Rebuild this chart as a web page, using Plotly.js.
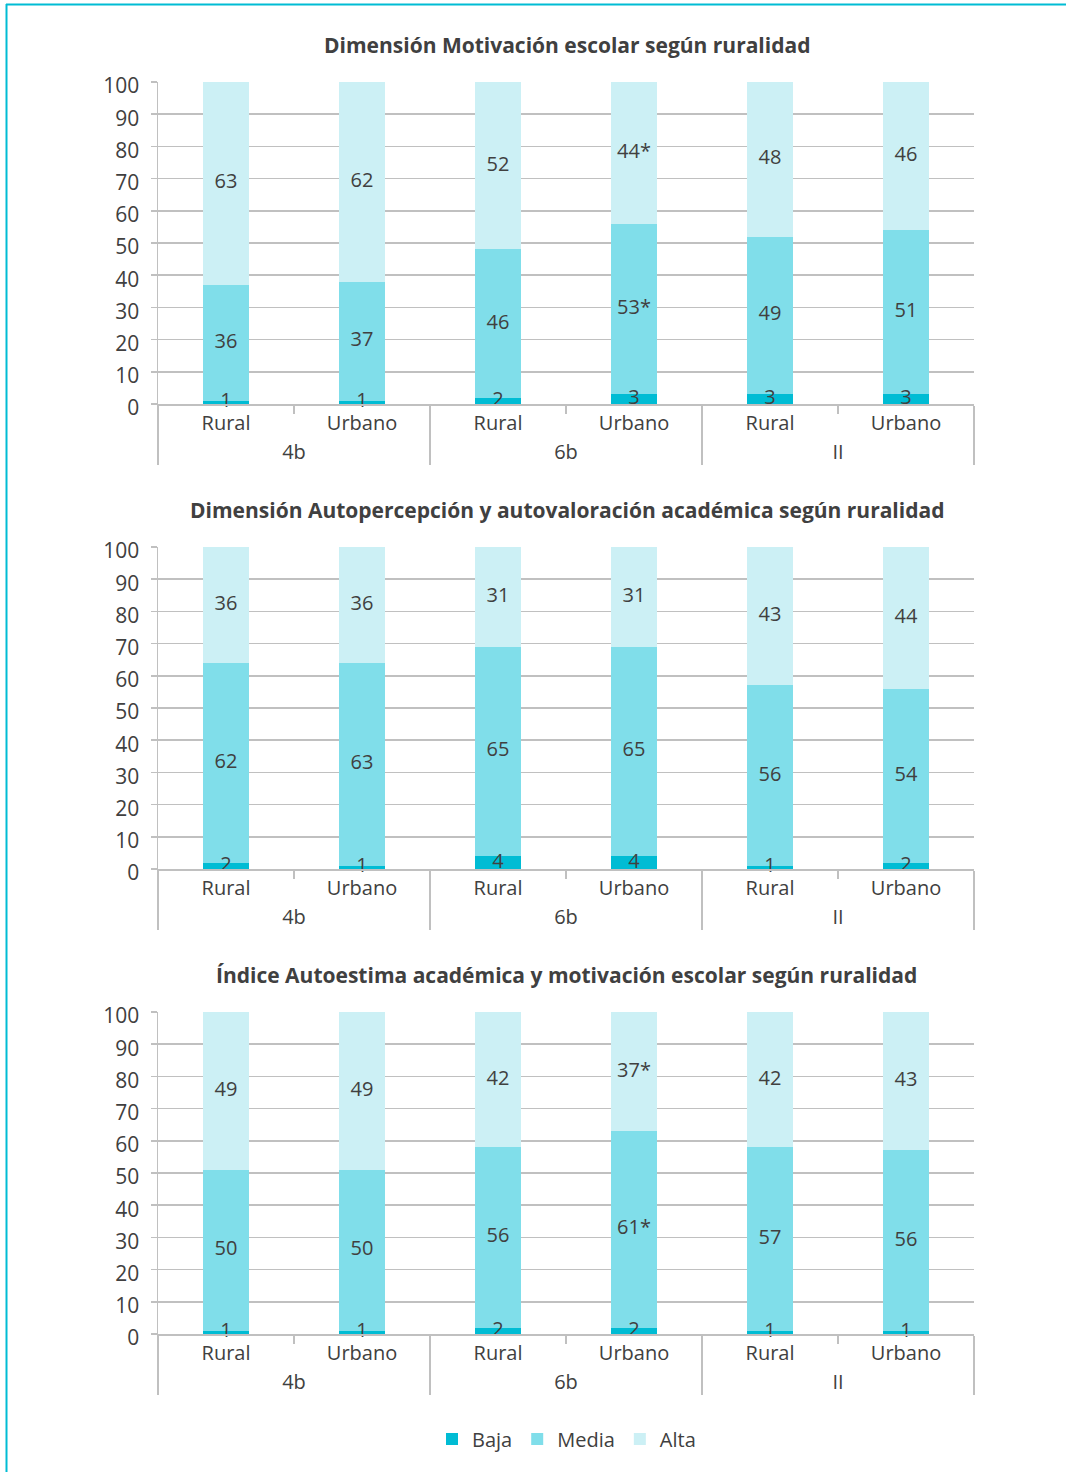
<!DOCTYPE html>
<html>
<head>
<meta charset="utf-8">
<script src="https://cdn.plot.ly/plotly-3.0.1.min.js"></script>
<style>
  html, body { margin: 0; padding: 0; background: #ffffff; }
  #chart { width: 1066px; height: 1472px; }
</style>
</head>
<body>
<div id="chart"></div>
<script>
// Category levels shared by the three panels
const grades = ['4b', '4b', '6b', '6b', 'II', 'II'];
const zones = ['Rural', 'Urbano', 'Rural', 'Urbano', 'Rural', 'Urbano'];
const seriesNames = ['Baja', 'Media', 'Alta'];

// Panel 1: Dimensión Motivación escolar
const motivBaja = [1, 1, 2, 3, 3, 3];
const motivMedia = [36, 37, 46, 53, 49, 51];
const motivAlta = [63, 62, 52, 44, 48, 46];
const motivSig = [false, false, false, true, false, false];

// Panel 2: Dimensión Autopercepción y autovaloración académica
const autoBaja = [2, 1, 4, 4, 1, 2];
const autoMedia = [62, 63, 65, 65, 56, 54];
const autoAlta = [36, 36, 31, 31, 43, 44];
const autoSig = [false, false, false, false, false, false];

// Panel 3: Índice Autoestima académica y motivación escolar
const indBaja = [1, 1, 2, 2, 1, 1];
const indMedia = [50, 50, 56, 61, 57, 56];
const indAlta = [49, 49, 42, 37, 42, 43];
const indSig = [false, false, false, true, false, false];

const panelTitles = [
  'Dimensión Motivación escolar según ruralidad',
  'Dimensión Autopercepción y autovaloración académica según ruralidad',
  'Índice Autoestima académica y motivación escolar según ruralidad'
];

const colors = ['#00BCD4', '#80DEEA', '#CCF0F5'];
const textColor = '#404040';
const lineColor = '#c0c0c0';
const FONT = '"Open Sans", "Noto Sans", sans-serif';

const panels = [
  { series: [motivBaja, motivMedia, motivAlta], sig: motivSig },
  { series: [autoBaja, autoMedia, autoAlta], sig: autoSig },
  { series: [indBaja, indMedia, indAlta], sig: indSig }
];

// Pixel layout of the figure (1066 x 1472)
const W = 1066, H = 1472;
const plotLeft = 158, plotRight = 974;
const panelTops = [82, 547, 1012];
const panelHeight = 322;
const titleY = [45, 510, 975];
const centerX = 566.5;

const x = [grades, zones];
const traces = [];
const annotations = [];
const layout = {
  width: W,
  height: H,
  margin: { l: 0, r: 0, t: 0, b: 0 },
  paper_bgcolor: '#ffffff',
  plot_bgcolor: '#ffffff',
  barmode: 'stack',
  bargap: 0.66,
  font: { family: FONT, color: textColor, size: 20 },
  showlegend: true,
  legend: {
    orientation: 'h',
    x: centerX / W,
    xanchor: 'center',
    y: 1 - 1439 / H,
    yanchor: 'middle',
    font: { size: 20, color: textColor },
    itemclick: false,
    itemdoubleclick: false,
    traceorder: 'normal'
  },
  annotations: annotations,
  shapes: [
    // cyan frame lines along the top and left edges
    { type: 'line', xref: 'paper', yref: 'paper', x0: 6 / W, x1: 1, y0: 1 - 4.5 / H, y1: 1 - 4.5 / H,
      line: { color: '#00BCD4', width: 2 } },
    { type: 'line', xref: 'paper', yref: 'paper', x0: 6.5 / W, x1: 6.5 / W, y0: 0, y1: 1 - 4 / H,
      line: { color: '#00BCD4', width: 2 } }
  ]
};

panels.forEach((panel, p) => {
  const suffix = p === 0 ? '' : String(p + 1);
  const xa = 'x' + suffix, ya = 'y' + suffix;

  // stacked bars
  panel.series.forEach((vals, s) => {
    traces.push({
      type: 'bar',
      x: x,
      y: vals,
      name: seriesNames[s],
      xaxis: xa,
      yaxis: ya,
      marker: { color: colors[s], line: { width: 0 } },
      legendgroup: seriesNames[s],
      showlegend: p === 0,
      hoverinfo: 'skip'
    });
  });

  // value labels centred on each segment
  const base = [0, 0, 0, 0, 0, 0];
  panel.series.forEach((vals, s) => {
    const mid = vals.map((v, i) => base[i] + v / 2);
    const labels = vals.map((v, i) => String(v) + (s > 0 && panel.sig[i] ? '*' : ''));
    vals.forEach((v, i) => { base[i] += v; });
    traces.push({
      type: 'scatter',
      mode: 'text',
      x: x,
      y: mid,
      text: labels,
      textposition: 'middle center',
      textfont: { family: FONT, size: 20, color: textColor },
      xaxis: xa,
      yaxis: ya,
      showlegend: false,
      cliponaxis: false,
      hoverinfo: 'skip'
    });
  });

  const top = 1 - panelTops[p] / H;
  const bottom = 1 - (panelTops[p] + panelHeight) / H;

  layout['xaxis' + suffix] = {
    type: 'multicategory',
    domain: [plotLeft / W, plotRight / W],
    anchor: ya,
    showline: true,
    linecolor: lineColor,
    linewidth: 1.5,
    showgrid: false,
    zeroline: false,
    ticks: 'outside',
    ticklen: 8,
    tickwidth: 1.5,
    tickcolor: lineColor,
    showdividers: true,
    dividercolor: lineColor,
    dividerwidth: 1.5,
    tickfont: { family: FONT, size: 20, color: textColor },
    fixedrange: true
  };
  layout['yaxis' + suffix] = {
    domain: [bottom, top],
    anchor: xa,
    range: [0, 100],
    dtick: 10,
    tick0: 0,
    showline: true,
    linecolor: lineColor,
    linewidth: 1.5,
    showgrid: true,
    gridcolor: lineColor,
    gridwidth: 1.5,
    zeroline: false,
    ticks: 'outside',
    ticklen: 6,
    tickwidth: 1.5,
    tickcolor: lineColor,
    ticklabelstandoff: 7,
    ticklabelshift: 4,
    tickfont: { family: FONT, size: 21, color: textColor },
    fixedrange: true
  };

  annotations.push({
    xref: 'paper', yref: 'paper',
    x: centerX / W, y: 1 - titleY[p] / H,
    xanchor: 'center', yanchor: 'middle',
    text: '<b>' + panelTitles[p] + '</b>',
    showarrow: false,
    font: { family: FONT, size: 21, color: textColor }
  });
});

Plotly.newPlot('chart', traces, layout, { staticPlot: true, displayModeBar: false });
</script>
</body>
</html>
